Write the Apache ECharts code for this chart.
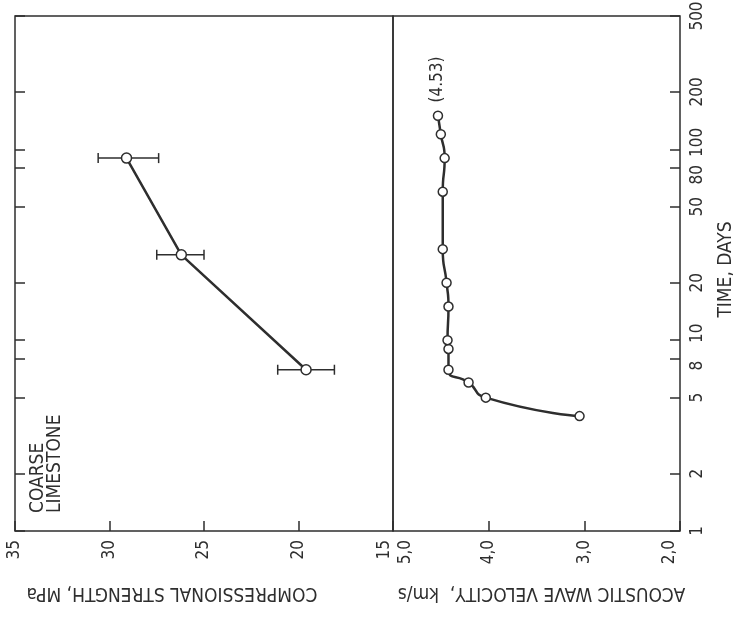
<!DOCTYPE html>
<html><head><meta charset="utf-8">
<script src="https://cdn.jsdelivr.net/npm/echarts@6/dist/echarts.min.js"></script>
<style>html,body{margin:0;padding:0;background:#fff}#c{width:738px;height:617px}</style>
</head><body><div id="c"></div>
<script>
// ---- data ----
const strengthDays = [7, 28, 90];
const strengthValues = [19.6, 26.2, 29.1];
const strengthLow = [18.1, 25.0, 27.4];
const strengthHigh = [21.1, 27.5, 30.6];
const velocityDays = [4, 5, 6, 7, 9, 10, 15, 20, 30, 60, 90, 120, 150];
const velocityValues = [3.05, 4.03, 4.21, 4.42, 4.42, 4.43, 4.42, 4.44, 4.48, 4.48, 4.46, 4.50, 4.53];
const velocityNote = '(4.53)';
const timeTicks = [1, 2, 5, 8, 10, 20, 50, 80, 100, 200, 500];
const panelText = 'COARSE\nLIMESTONE';

const FONT = "'Liberation Sans Narrow','DejaVu Sans Condensed','Liberation Sans',sans-serif";
const INK = '#2e2e2e';
const TF = 17; // tick label font size

const chart = echarts.init(document.getElementById('c'), null, {renderer: 'canvas'});

const tickStyle = {show: true, inside: true, length: 10, lineStyle: {color: INK, width: 1.5}};
const lab = (extra) => Object.assign({fontFamily: FONT, fontSize: TF, color: INK}, extra || {});

const option = {
  backgroundColor: '#fff',
  animation: false,
  grid: [
    {left: 15, right: 345, top: 16, bottom: 86, show: true, borderColor: INK, borderWidth: 1.5, backgroundColor: 'transparent', outerBoundsMode: 'none', containLabel: false},
    {left: 393, right: 58, top: 16, bottom: 86, show: true, borderColor: INK, borderWidth: 1.5, backgroundColor: 'transparent', outerBoundsMode: 'none', containLabel: false}
  ],
  xAxis: [
    {
      gridIndex: 0, type: 'value', min: 15, max: 35, interval: 5, inverse: true, position: 'bottom',
      axisLine: {show: false}, splitLine: {show: false}, axisTick: tickStyle,
      axisLabel: {
        rotate: 90, margin: 9, color: INK, fontFamily: FONT, fontSize: TF,
        formatter: v => v === 15 ? '{s|15}' : '{n|' + v + '}',
        rich: {n: lab(), s: lab({padding: [0, 0, 16, 0]})}
      },
      name: 'COMPRESSIONAL STRENGTH, MPa', nameLocation: 'middle', nameGap: 52, nameRotate: 180,
      nameTextStyle: {fontFamily: FONT, fontSize: 19, color: INK, padding: [0, 0, 0, 64]}
    },
    {
      gridIndex: 1, type: 'value', min: 2, max: 5, interval: 1, inverse: true, position: 'bottom',
      axisLine: {show: false}, splitLine: {show: false}, axisTick: tickStyle,
      axisLabel: {
        rotate: 90, margin: 9, color: INK, fontFamily: FONT, fontSize: TF,
        formatter: v => {
          const t = v.toFixed(1).replace('.', ',');
          if (v === 5) return '{r|' + t + '}';
          if (v === 2) return '{s|' + t + '}';
          return '{n|' + t + '}';
        },
        rich: {n: lab(), r: lab({padding: [26, 0, 0, 0]}), s: lab({padding: [0, 0, 20, 0]})}
      },
      name: 'ACOUSTIC WAVE VELOCITY,  km/s', nameLocation: 'middle', nameGap: 52, nameRotate: 180,
      nameTextStyle: {fontFamily: FONT, fontSize: 19, color: INK, padding: [0, 10, 0, 0]}
    }
  ],
  yAxis: [
    {
      gridIndex: 0, type: 'log', logBase: 10, min: 1, max: 500, position: 'left',
      axisLine: {show: false}, splitLine: {show: false},
      axisTick: Object.assign({}, tickStyle, {customValues: timeTicks}),
      axisLabel: {show: false}
    },
    {
      gridIndex: 1, type: 'log', logBase: 10, min: 1, max: 500, position: 'right',
      axisLine: {show: false}, splitLine: {show: false},
      axisTick: Object.assign({}, tickStyle, {customValues: timeTicks}),
      axisLabel: {
        customValues: timeTicks, rotate: 90, margin: 9, color: INK, fontFamily: FONT, fontSize: TF,
        hideOverlap: false,
        formatter: v => {
          const r = Math.round(v);
          if (r === 100 || r === 10) return '{u|' + r + '}';
          if (r === 80 || r === 8) return '{d|' + r + '}';
          return '{n|' + r + '}';
        },
        rich: {n: lab(), u: lab({padding: [0, 0, 0, 14]}), d: lab({padding: [0, 14, 0, 0]})}
      },
      name: 'TIME, DAYS', nameLocation: 'middle', nameGap: 37, nameRotate: 90,
      nameTextStyle: {fontFamily: FONT, fontSize: 19, color: INK, padding: [0, 0, 0, 8]}
    }
  ],
  graphic: [{
    type: 'text', x: 30, y: 513, rotation: Math.PI / 2,
    style: {text: panelText, font: "19px " + FONT, fill: INK, textAlign: 'left', textVerticalAlign: 'top', lineHeight: 17}
  }],
  series: [
    {
      type: 'custom', xAxisIndex: 0, yAxisIndex: 0, z: 2,
      data: strengthDays.map((d, i) => [strengthLow[i], strengthHigh[i], d]),
      encode: {x: [0, 1], y: 2},
      renderItem: (params, api) => {
        const a = api.coord([api.value(0), api.value(2)]);
        const b = api.coord([api.value(1), api.value(2)]);
        const h = 5;
        const st = {stroke: INK, lineWidth: 1.5};
        return {type: 'group', children: [
          {type: 'line', shape: {x1: a[0], y1: a[1], x2: b[0], y2: b[1]}, style: st},
          {type: 'line', shape: {x1: a[0], y1: a[1] - h, x2: a[0], y2: a[1] + h}, style: st},
          {type: 'line', shape: {x1: b[0], y1: b[1] - h, x2: b[0], y2: b[1] + h}, style: st}
        ]};
      }
    },
    {
      type: 'line', xAxisIndex: 0, yAxisIndex: 0, z: 3,
      data: strengthDays.map((d, i) => [strengthValues[i], d]),
      symbol: 'circle', symbolSize: 10,
      itemStyle: {color: '#fff', borderColor: INK, borderWidth: 1.5},
      lineStyle: {color: INK, width: 2.5}
    },
    {
      type: 'line', xAxisIndex: 1, yAxisIndex: 1, z: 3,
      smooth: 0.6,
      data: velocityDays.map((d, i) => {
        const item = {value: [velocityValues[i], d]};
        if (i === velocityDays.length - 1) {
          item.label = {show: true, formatter: velocityNote, position: 'top', rotate: 90, align: 'left', verticalAlign: 'middle', distance: 8,
            fontFamily: FONT, fontSize: TF, color: INK};
        }
        return item;
      }),
      symbol: 'circle', symbolSize: 9,
      itemStyle: {color: '#fff', borderColor: INK, borderWidth: 1.5},
      lineStyle: {color: INK, width: 2.5}
    }
  ]
};
chart.setOption(option);
</script>
</body></html>
